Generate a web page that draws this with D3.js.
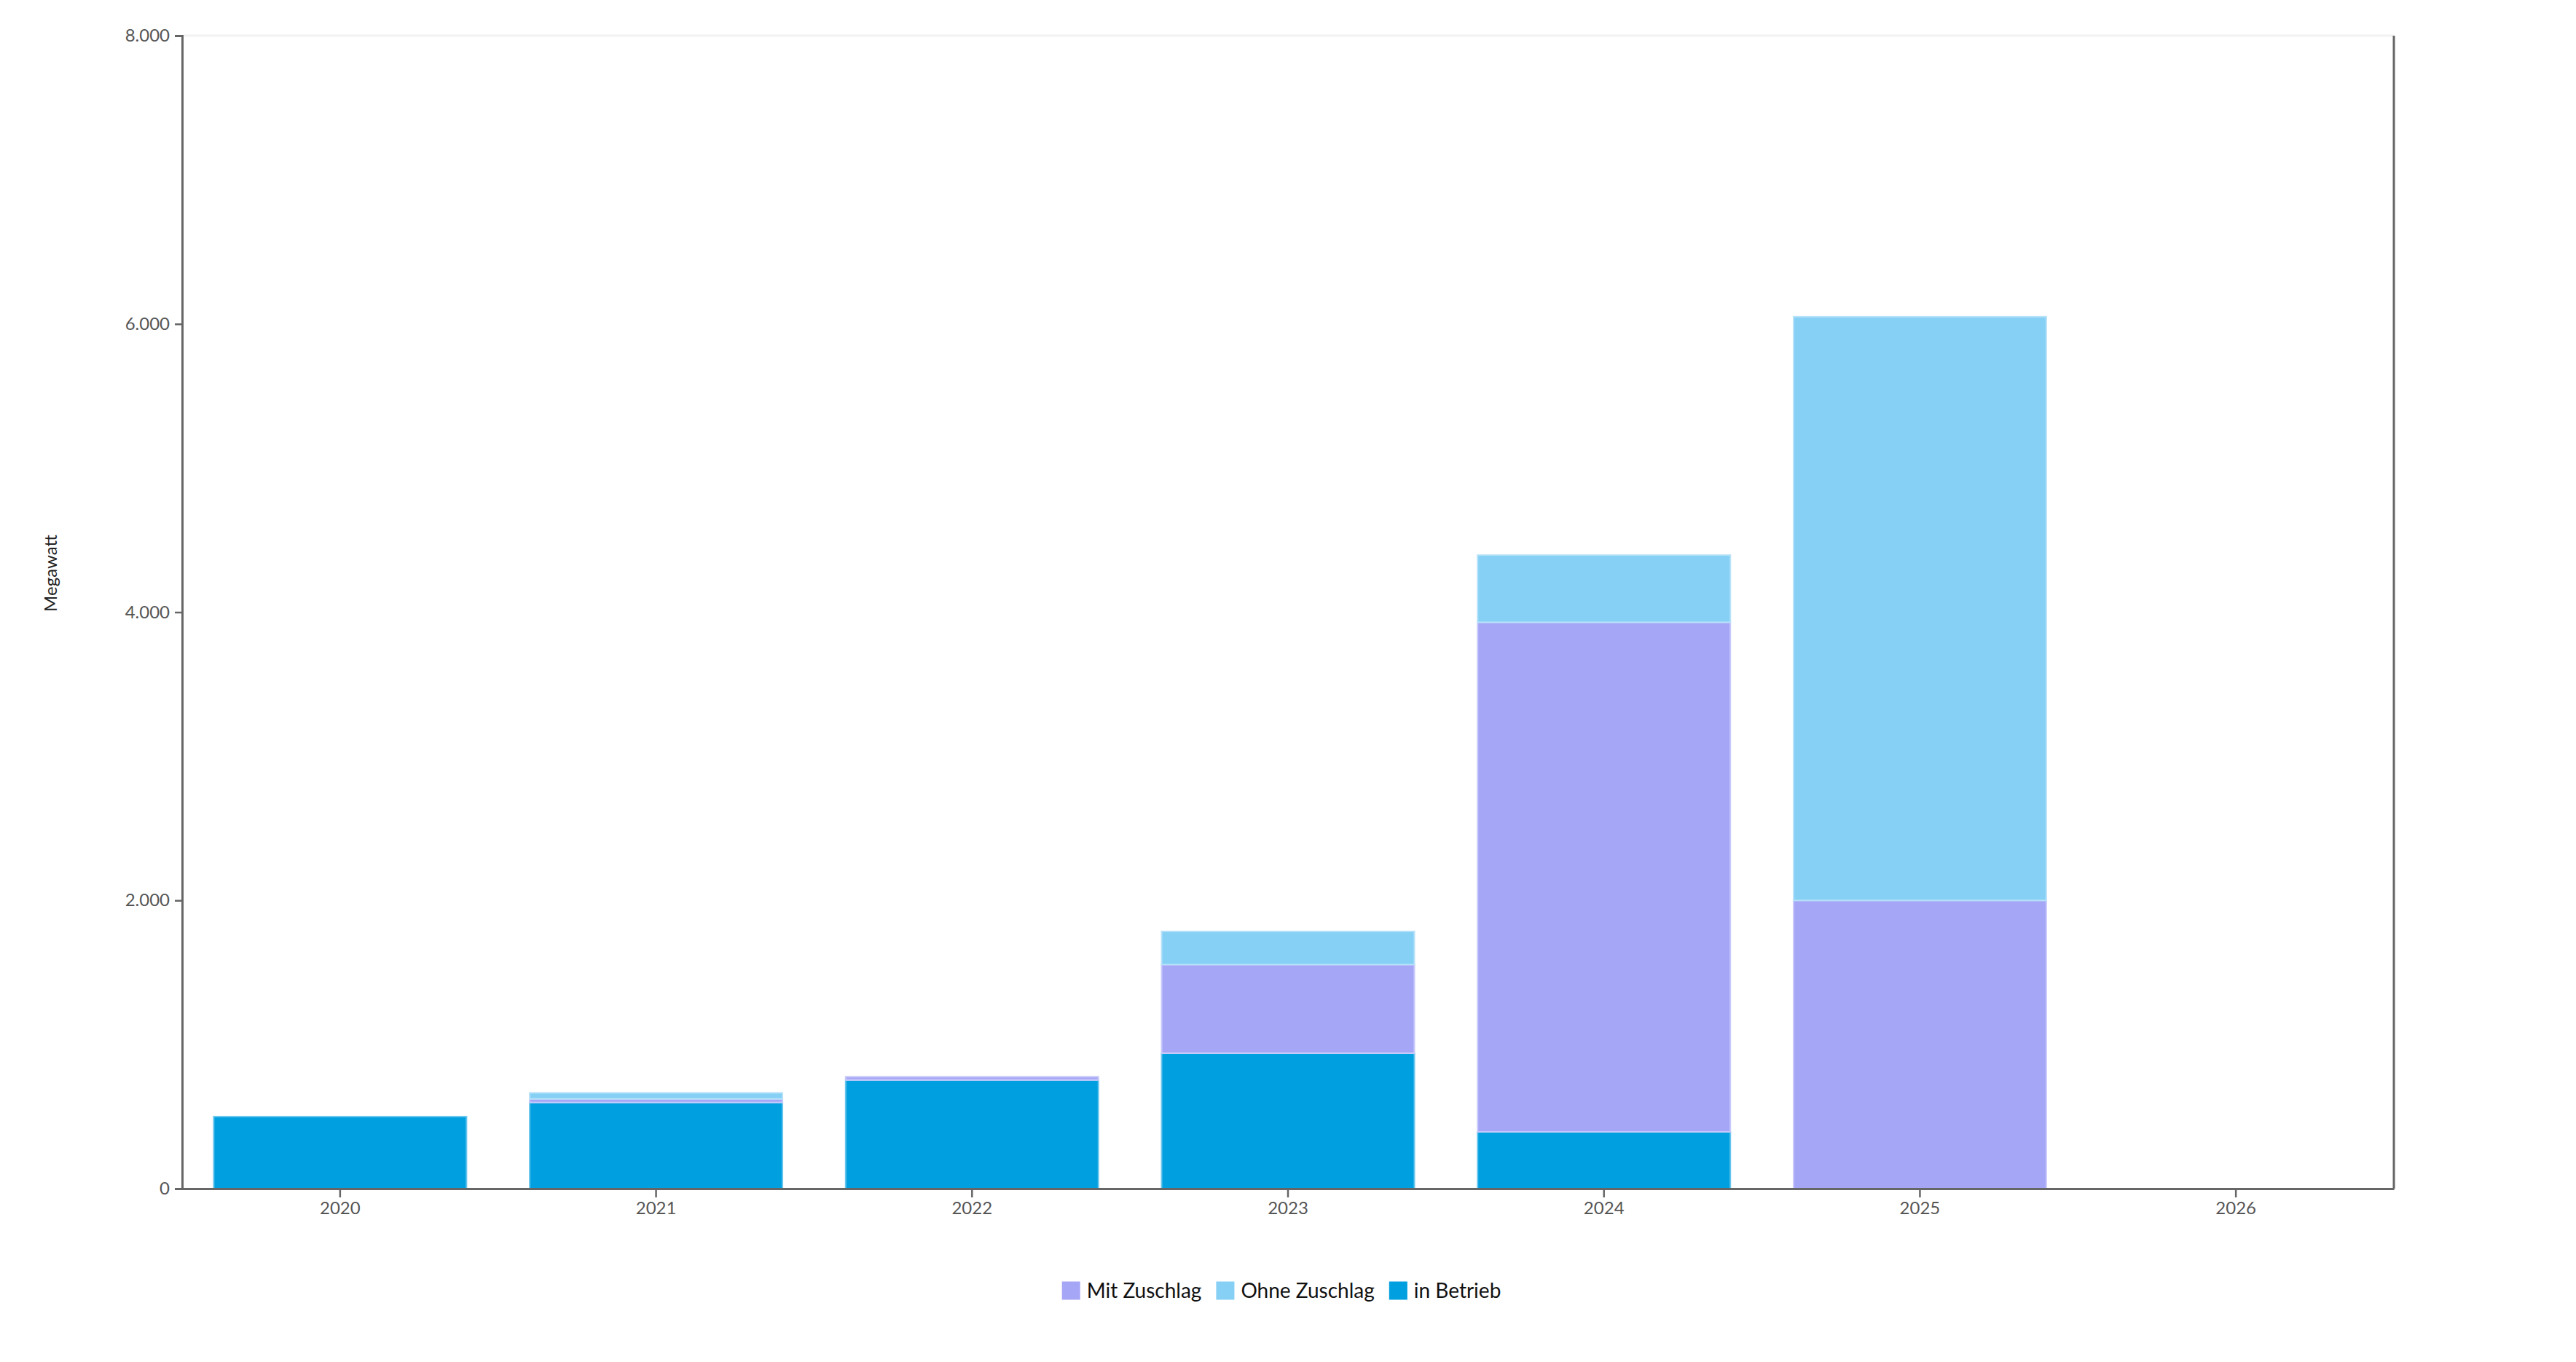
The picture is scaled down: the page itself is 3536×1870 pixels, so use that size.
<!DOCTYPE html>
<html>
<head>
<meta charset="utf-8">
<script src="https://cdn.jsdelivr.net/npm/d3@7"></script>
<style>
  body { margin: 0; background: #fff; }
  svg { display: block; font-family: Lato, "Open Sans", sans-serif; }
</style>
</head>
<body>
<div id="chart"></div>
<script>
// data (Megawatt)
const years = ["2020", "2021", "2022", "2023", "2024", "2025", "2026"];
const inBetrieb = [500, 598, 754, 940, 394, 0, 0];
const mitZuschlag = [0, 25, 23, 615, 3536, 2000, 0];
const ohneZuschlag = [0, 42, 0, 230, 466, 4050, 0];
const yTicks = [0, 2000, 4000, 6000, 8000];

const seriesKeys = ["inBetrieb", "mitZuschlag", "ohneZuschlag"];
const seriesNames = { mitZuschlag: "Mit Zuschlag", ohneZuschlag: "Ohne Zuschlag", inBetrieb: "in Betrieb" };
const legendOrder = ["mitZuschlag", "ohneZuschlag", "inBetrieb"];
const colors = { mitZuschlag: "#a5a6f6", ohneZuschlag: "#86cff5", inBetrieb: "#009fe0" };

const W = 3536, H = 1870;
const margin = { top: 49, right: 250, bottom: 238, left: 250 };
const width = W - margin.left - margin.right,
    height = H - margin.top - margin.bottom;

// German number format: 8.000
const de = d3.formatLocale({ decimal: ",", thousands: ".", grouping: [3], currency: ["", " €"] });
const fmt = de.format(",.0f");

const table = years.map((y, i) => ({
    year: y,
    inBetrieb: inBetrieb[i],
    mitZuschlag: mitZuschlag[i],
    ohneZuschlag: ohneZuschlag[i]
}));
const stacked = d3.stack().keys(seriesKeys)(table);

const x = d3.scaleBand()
    .domain(years)
    .range([0, width])
    .paddingInner(0.2)
    .paddingOuter(0.1);

const y = d3.scaleLinear()
    .domain([0, 8000])
    .range([height, 0]);

const svg = d3.select("#chart").append("svg")
    .attr("width", W)
    .attr("height", H);

const g = svg.append("g")
    .attr("transform", "translate(" + margin.left + "," + margin.top + ")");

// light line at top, dark frame line at right
g.append("line")
    .attr("x1", 0).attr("x2", width)
    .attr("y1", y(8000)).attr("y2", y(8000))
    .attr("stroke", "#f2f2f2").attr("stroke-width", 3);
g.append("line")
    .attr("x1", width).attr("x2", width)
    .attr("y1", 0).attr("y2", height)
    .attr("stroke", "#666").attr("stroke-width", 3);

// bars
const layer = g.selectAll(".layer")
    .data(stacked)
    .enter().append("g")
    .attr("class", "layer")
    .attr("fill", d => colors[d.key])
    .attr("stroke", d => d3.interpolateRgb(colors[d.key], "#ffffff")(0.4))
    .attr("stroke-width", 2);

layer.selectAll("rect")
    .data(d => d)
    .enter().append("rect")
    .attr("x", d => x(d.data.year))
    .attr("width", x.bandwidth())
    .attr("y", d => y(d[1]))
    .attr("height", d => y(d[0]) - y(d[1]));

// axes
const yAxis = g.append("g")
    .call(d3.axisLeft(y).tickValues(yTicks).tickFormat(fmt).tickSize(10).tickPadding(7));
yAxis.select(".domain").attr("stroke", "#666").attr("stroke-width", 3);
yAxis.selectAll(".tick line").attr("stroke", "#666").attr("stroke-width", 2.5);
yAxis.selectAll(".tick text")
    .attr("fill", "#555")
    .style("font-size", "24px")
    .style("font-family", "Lato, 'Open Sans', sans-serif");

const xAxis = g.append("g")
    .attr("transform", "translate(0," + height + ")")
    .call(d3.axisBottom(x).tickSize(12).tickPadding(6).tickSizeOuter(0));
xAxis.select(".domain").attr("stroke", "#666").attr("stroke-width", 3);
xAxis.selectAll(".tick line").attr("stroke", "#666").attr("stroke-width", 2.5);
xAxis.selectAll(".tick text")
    .attr("fill", "#555")
    .style("font-size", "24px")
    .style("font-family", "Lato, 'Open Sans', sans-serif");

// y axis title
svg.append("text")
    .attr("transform", "translate(78,787) rotate(-90)")
    .attr("text-anchor", "middle")
    .attr("fill", "#222")
    .style("font-size", "24px")
    .text("Megawatt");

// legend, centred under the plot
const legend = svg.append("g");
const sq = 25, gapText = 9, gapItem = 20;
let lx = 0;
legendOrder.forEach(k => {
    const item = legend.append("g").attr("transform", "translate(" + lx + ",0)");
    item.append("rect")
        .attr("width", sq).attr("height", sq)
        .attr("y", -sq / 2)
        .attr("fill", colors[k]);
    const t = item.append("text")
        .attr("x", sq + gapText)
        .attr("dy", "0.35em")
        .attr("fill", "#111")
        .style("font-size", "28px")
        .text(seriesNames[k]);
    lx += sq + gapText + t.node().getComputedTextLength() + gapItem;
});
lx -= gapItem;
legend.attr("transform", "translate(" + (margin.left + width / 2 - lx / 2 - 9) + ",1772)");
</script>
</body>
</html>
